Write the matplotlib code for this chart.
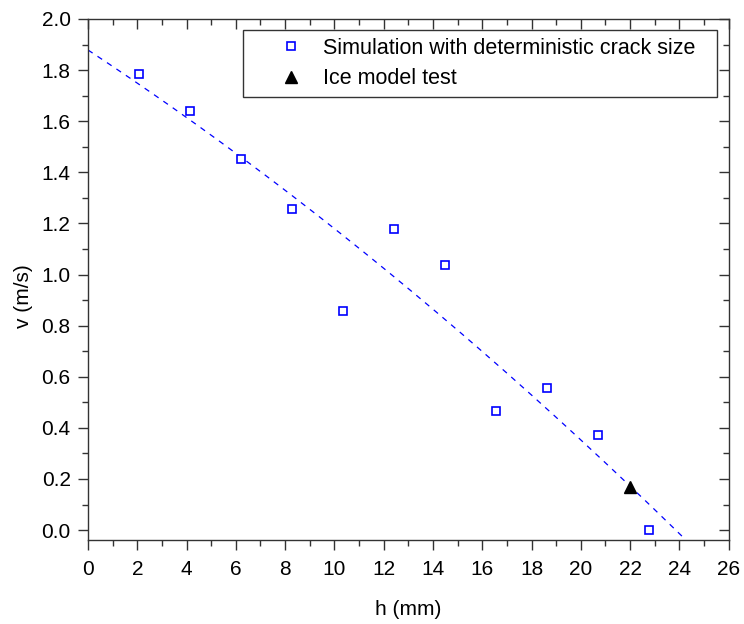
import numpy as np
import matplotlib
matplotlib.use("Agg")
import matplotlib.pyplot as plt
from matplotlib.ticker import MultipleLocator, FormatStrFormatter

plt.rcParams['font.family'] = ['Liberation Sans', 'DejaVu Sans']
plt.rcParams['lines.scale_dashes'] = False

# Simulated impact velocity vs. crack depth
h_sim = [2.07, 4.13, 6.19, 8.27, 10.35, 12.42, 14.49, 16.56, 18.63, 20.70, 22.77]
v_sim = [1.784, 1.641, 1.454, 1.257, 0.858, 1.177, 1.039, 0.466, 0.557, 0.372, 0.0]

# Ice model test
h_ice = [22.0]
v_ice = [0.168]

# Extent of the quadratic trend curve
h_fit_range = [0.0, 24.2]

FS = 15
fig = plt.figure(figsize=(7.44, 6.24), dpi=100)
ax = fig.add_axes([88 / 744, 1 - 540.3 / 624, 640.7 / 744, 521.3 / 624])

coef = np.polyfit(h_sim, v_sim, 2)
hh = np.linspace(h_fit_range[0], h_fit_range[1], 200)
ax.plot(hh, np.polyval(coef, hh), color='#0000ff', lw=0.9,
        linestyle=(0, (4.0, 4.2)), zorder=2)

ax.plot(h_sim, v_sim, linestyle='none', marker='s', ms=6.2, mfc='white',
        mec='#0000ff', mew=1.2, label='Simulation with deterministic crack size',
        zorder=3)
ax.plot(h_ice, v_ice, linestyle='none', marker='^', ms=9, color='black',
        label='Ice model test', zorder=4)

ax.set_xlim(0, 26)
ax.set_ylim(-0.04, 2.0)
ax.xaxis.set_major_locator(MultipleLocator(2))
ax.xaxis.set_minor_locator(MultipleLocator(1))
ax.yaxis.set_major_locator(MultipleLocator(0.2))
ax.yaxis.set_minor_locator(MultipleLocator(0.1))
ax.yaxis.set_major_formatter(FormatStrFormatter('%.1f'))

for s in ax.spines.values():
    s.set_linewidth(1.0)
    s.set_color('#333333')

ax.tick_params(which='both', top=True, right=True, width=1.0, color='#333333',
               labelsize=FS, labelcolor='black')
ax.tick_params(which='major', length=7.5)
ax.tick_params(which='minor', length=4)
ax.tick_params(axis='x', which='both', direction='out', pad=6.5)
ax.tick_params(axis='y', which='both', direction='out', pad=5)
# inward ticks on the top and right edges
for t in ax.xaxis.get_major_ticks() + ax.xaxis.get_minor_ticks():
    t.tick2line.set_marker(matplotlib.lines.TICKDOWN)
for t in ax.yaxis.get_major_ticks() + ax.yaxis.get_minor_ticks():
    t.tick2line.set_marker(matplotlib.lines.TICKLEFT)

ax.set_xlabel('h (mm)', fontsize=FS, labelpad=15)
ax.set_ylabel('v (m/s)', fontsize=FS)
ax.yaxis.set_label_coords(-0.0858, 0.4687)

leg = ax.legend(loc='upper left', bbox_to_anchor=(0.2424, 0.9789, 0.7398, 0.0),
                mode='expand', borderaxespad=0, fontsize=15.5, frameon=True,
                fancybox=False, edgecolor='black', borderpad=0.37,
                labelspacing=0.44, handlelength=3.69, handletextpad=-0.36,
                numpoints=1)
leg.get_frame().set_linewidth(1.0)
leg.legend_handles[0].set_markersize(6)
leg.legend_handles[1].set_markersize(8.5)

fig.savefig('out.png', dpi=100)
